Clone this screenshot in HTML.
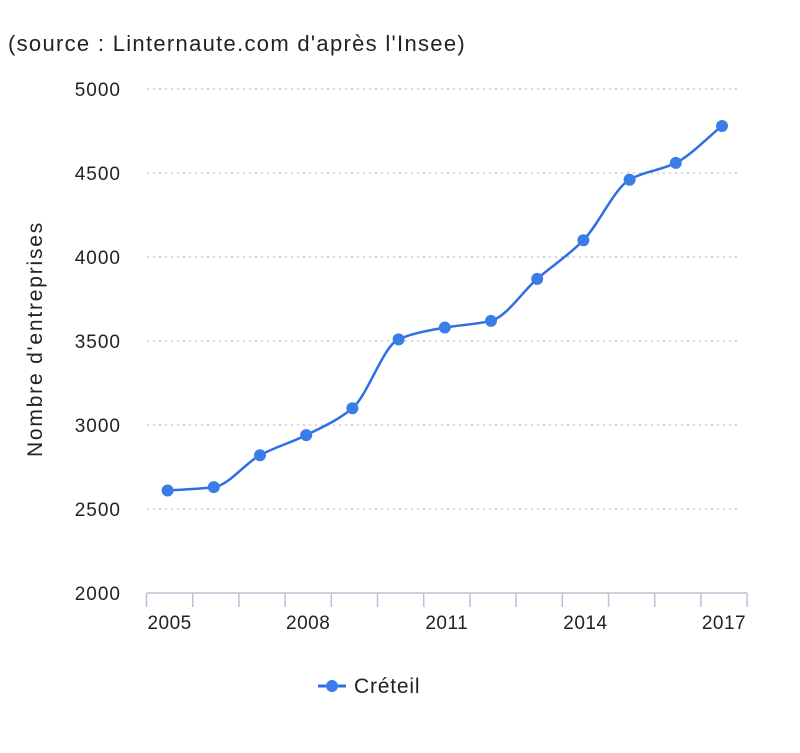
<!DOCTYPE html>
<html><head><meta charset="utf-8"><style>
body{margin:0;background:#fff;width:800px;height:748px;overflow:hidden;font-family:"Liberation Sans",sans-serif;}
</style></head><body>
<svg id="chart" width="800" height="748" xmlns="http://www.w3.org/2000/svg">
<text x="8" y="51" font-size="22" letter-spacing="1.3" fill="#222" font-family="Liberation Sans, sans-serif">(source : Linternaute.com d'après l'Insee)</text>
<text transform="translate(42,339) rotate(-90)" text-anchor="middle" font-size="21" letter-spacing="1.8" fill="#222" font-family="Liberation Sans, sans-serif">Nombre d'entreprises</text>
<g id="grid"></g><g id="axis"></g><g id="series"></g>
<g>
<line x1="318" y1="686" x2="346" y2="686" stroke="#2f6fe4" stroke-width="3"/>
<circle cx="332" cy="686" r="6" fill="#3b7de8"/>
<text x="354" y="693" font-size="21" letter-spacing="0.8" fill="#222" font-family="Liberation Sans, sans-serif">Créteil</text>
</g>
</svg>
<script>
const years=[2005,2006,2007,2008,2009,2010,2011,2012,2013,2014,2015,2016,2017];
const values=[2610,2630,2820,2940,3100,3510,3580,3620,3870,4100,4460,4560,4780];
const yTicks=[2000,2500,3000,3500,4000,4500,5000];
const xLabels=[2005,2008,2011,2014,2017];
const NS="http://www.w3.org/2000/svg";
const x0=146.5,bw=46.2,yBase=593,yTop=89;
const X=i=>x0+bw*(i+0.5)-2;
const Y=v=>yBase-(v-2000)/3000*(yBase-yTop);
function mk(t,a,p){const e=document.createElementNS(NS,t);for(const k in a)e.setAttribute(k,a[k]);p.appendChild(e);return e;}
const grid=document.getElementById('grid'),axis=document.getElementById('axis'),series=document.getElementById('series');
yTicks.forEach(v=>{
 if(v>2000){const l=mk('line',{x1:147,x2:740,y1:Y(v),y2:Y(v),stroke:'#ccc','stroke-width':1.5,'stroke-dasharray':'2,4'},grid);
 
 }
 const t=mk('text',{x:121,y:Y(v)+7,'text-anchor':'end','font-size':19,'letter-spacing':1,fill:'#222'},grid);
 t.textContent=v;
 
 
});
const ax=mk('line',{x1:x0,x2:x0+bw*13,y1:yBase,y2:yBase,stroke:'#b8c4d6','stroke-width':1.5},axis);


for(let i=0;i<=13;i++){const tk=mk('line',{x1:x0+bw*i,x2:x0+bw*i,y1:yBase,y2:yBase+14,stroke:'#b8c4d6','stroke-width':1.5},axis);
 
 }
xLabels.forEach(yr=>{const i=years.indexOf(yr);
 const t=mk('text',{x:X(i)+2,y:629,'text-anchor':'middle','font-size':19,'letter-spacing':0.5,fill:'#222'},axis);
 t.textContent=yr;
 
 });
const pts=values.map((v,i)=>[X(i),Y(v)]);const n=pts.length;
const d=[],m=[];for(let i=0;i<n-1;i++)d.push((pts[i+1][1]-pts[i][1])/(pts[i+1][0]-pts[i][0]));
m[0]=d[0];m[n-1]=d[n-2];for(let i=1;i<n-1;i++)m[i]=d[i-1]*d[i]<=0?0:2/(1/d[i-1]+1/d[i]);
let p='M'+pts[0][0]+','+pts[0][1];
for(let i=0;i<n-1;i++){const h=(pts[i+1][0]-pts[i][0])/3;
 p+=' C'+(pts[i][0]+h)+','+(pts[i][1]+m[i]*h)+' '+(pts[i+1][0]-h)+','+(pts[i+1][1]-m[i+1]*h)+' '+pts[i+1][0]+','+pts[i+1][1];}
const line=mk('path',{d:p,fill:'none',stroke:'#2f6fe4','stroke-width':2.5},series);


pts.forEach((q,i)=>{const c=mk('circle',{cx:q[0],cy:q[1],r:6,fill:'#3b7de8'},series);
 
 });
</script>
</body></html>
